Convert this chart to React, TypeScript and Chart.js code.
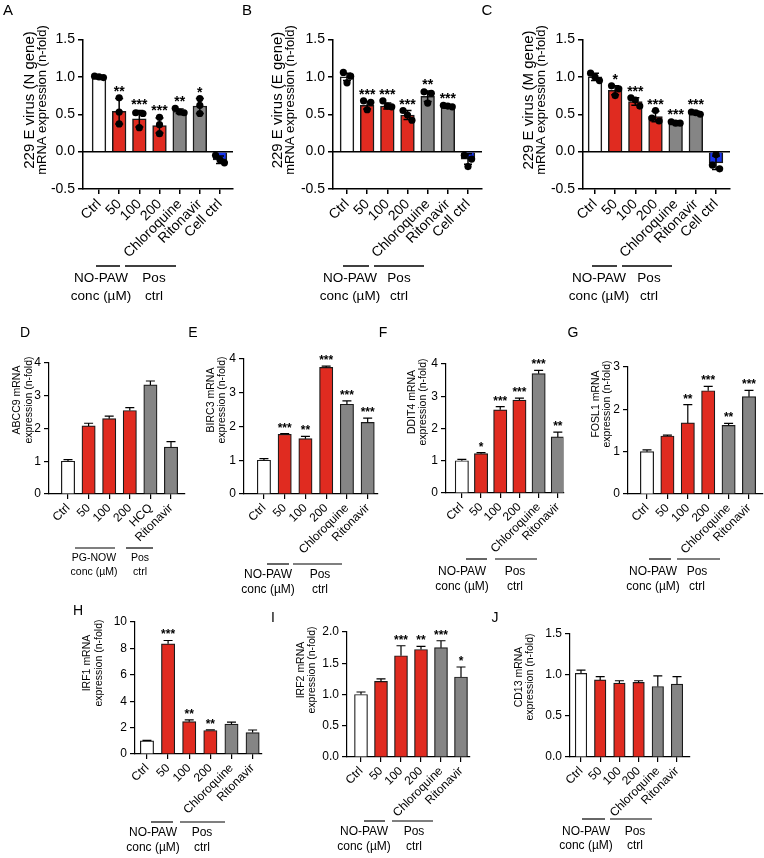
import React, { useEffect, useRef } from "react";
import { Chart, registerables } from "chart.js";
Chart.register(...registerables);

const FONT = "'Liberation Sans', Arial, Helvetica, sans-serif";
const RED = "#e02b20";
const GREY = "#858585";
const WHITE = "#ffffff";
const BLUE = "#1733ee";

// ---------- categories ----------
const virusCategories = ["Ctrl", "50", "100", "200", "Chloroquine", "Ritonavir", "Cell ctrl"];
const geneCategories = ["Ctrl", "50", "100", "200", "Chloroquine", "Ritonavir"];
const abcc9Categories = ["Ctrl", "50", "100", "200", "HCQ", "Ritonavir"];

// ---------- A: 229E N gene ----------
const nGeneMean = [1.0, 0.54, 0.44, 0.35, 0.54, 0.61, -0.11];
const nGeneSD = [0.02, 0.17, 0.11, 0.1, 0.03, 0.1, 0.05];
const nGeneDots = [[0.99, 1.01, 1.0], [0.72, 0.53, 0.37], [0.51, 0.52, 0.32], [0.46, 0.36, 0.24], [0.58, 0.52, 0.53], [0.71, 0.62, 0.51], [-0.05, -0.15, -0.11]];
const nGeneStars = ["", "**", "***", "***", "**", "*", ""];

// ---------- B: 229E E gene ----------
const eGeneMean = [1.0, 0.62, 0.61, 0.49, 0.74, 0.6, -0.1];
const eGeneSD = [0.05, 0.05, 0.04, 0.06, 0.07, 0.02, 0.07];
const eGeneDots = [[1.06, 0.92, 1.01], [0.68, 0.56, 0.66], [0.68, 0.61, 0.6], [0.55, 0.49, 0.42], [0.8, 0.78, 0.65], [0.6, 0.62, 0.61], [-0.05, -0.2, -0.1]];
const eGeneStars = ["", "***", "***", "***", "**", "***", ""];

// ---------- C: 229E M gene ----------
const mGeneMean = [1.0, 0.82, 0.67, 0.47, 0.39, 0.52, -0.15];
const mGeneSD = [0.05, 0.06, 0.05, 0.07, 0.02, 0.02, 0.09];
const mGeneDots = [[1.05, 0.95, 1.0], [0.88, 0.84, 0.75], [0.72, 0.69, 0.61], [0.55, 0.45, 0.41], [0.4, 0.38, 0.38], [0.5, 0.52, 0.53], [-0.04, -0.18, -0.23]];
const mGeneStars = ["", "*", "***", "***", "***", "***", ""];

// ---------- D: ABCC9 ----------
const abcc9Mean = [1.0, 2.08, 2.3, 2.55, 3.33, 1.43];
const abcc9SD = [0.05, 0.08, 0.08, 0.09, 0.12, 0.17];
const abcc9Stars = ["", "", "", "", "", ""];

// ---------- E: BIRC3 ----------
const birc3Mean = [1.0, 1.77, 1.64, 3.75, 2.66, 2.12];
const birc3SD = [0.05, 0.02, 0.07, 0.04, 0.1, 0.13];
const birc3Stars = ["", "***", "**", "***", "***", "***"];

// ---------- F: DDIT4 ----------
const ddit4Mean = [1.0, 1.22, 2.58, 2.88, 3.7, 1.74];
const ddit4SD = [0.04, 0.03, 0.1, 0.06, 0.1, 0.15];
const ddit4Stars = ["", "*", "***", "***", "***", "**"];

// ---------- G: FOSL1 ----------
const fosl1Mean = [1.0, 1.37, 1.68, 2.44, 1.62, 2.3];
const fosl1SD = [0.04, 0.02, 0.43, 0.1, 0.05, 0.15];
const fosl1Stars = ["", "", "**", "***", "**", "***"];

// ---------- H: IRF1 ----------
const irf1Mean = [1.0, 8.35, 2.45, 1.78, 2.27, 1.62];
const irf1SD = [0.03, 0.25, 0.13, 0.05, 0.15, 0.2];
const irf1Stars = ["", "***", "**", "**", "", ""];

// ---------- I: IRF2 ----------
const irf2Mean = [1.0, 1.21, 1.62, 1.72, 1.75, 1.28];
const irf2SD = [0.04, 0.04, 0.16, 0.05, 0.11, 0.16];
const irf2Stars = ["", "", "***", "**", "***", "*"];

// ---------- J: CD13 ----------
const cd13Mean = [1.02, 0.94, 0.9, 0.91, 0.86, 0.89];
const cd13SD = [0.04, 0.04, 0.03, 0.02, 0.13, 0.09];
const cd13Stars = ["", "", "", "", "", ""];

const virusColors = [WHITE, RED, RED, RED, GREY, GREY, BLUE];
const geneColors = [WHITE, RED, RED, RED, GREY, GREY];

type Group = { lines: string[]; x1: number; x2: number; tx: number };
type PanelSpec = {
  letter: string;
  letterPos: [number, number];
  letterFont: number;
  box: [number, number, number, number];
  area: [number, number, number, number];
  tickPx: [number, number];
  cats: string[];
  means: number[];
  sds: number[];
  dots?: number[][];
  stars: string[];
  colors: string[];
  yMin: number;
  yMax: number;
  yStep: number;
  dec: number;
  title: string[];
  titleX: number[];
  titleY: number;
  titleFonts: number[];
  tickFont: number;
  labelFont: number;
  groupFont: number;
  starFont: number;
  barW: number;
  cap: number;
  lw: number;
  twoSided: boolean;
  zeroLine: boolean;
  groupLineY: number;
  groupTextY: number[];
  groups: Group[];
};

const pairOffsets = [-0.18, 0.18];
const tripleOffsets = [-0.22, 0, 0.22];

function buildDots(dots: number[][], range: number) {
  const tol = range * 0.04;
  const out: { x: number; y: number }[] = [];
  dots.forEach((vals, i) => {
    const sorted = [...vals].sort((a, b) => b - a);
    const clusters: number[][] = [];
    sorted.forEach((v) => {
      const last = clusters[clusters.length - 1];
      if (last && Math.abs(last[last.length - 1] - v) < tol) last.push(v);
      else clusters.push([v]);
    });
    clusters.forEach((c) => {
      const offs = c.length === 1 ? [0] : c.length === 2 ? pairOffsets : c.length === 3 ? tripleOffsets : c.map((_, k) => (k - (c.length - 1) / 2) * 0.22);
      c.forEach((v, k) => out.push({ x: i + offs[k], y: v }));
    });
  });
  return out;
}

function annotPlugin(p: PanelSpec) {
  const [ox, oy] = p.box;
  return {
    id: "annot" + p.letter,
    afterDatasetDraw(chart: any, args: any) {
      if (args.index !== 0) return;
      const ctx = chart.ctx as CanvasRenderingContext2D;
      const xs = chart.scales.x;
      const ys = chart.scales.y;
      ctx.save();
      ctx.strokeStyle = "#000";
      ctx.lineWidth = p.lw;
      if (p.zeroLine) {
        const y0 = ys.getPixelForValue(0);
        ctx.beginPath();
        ctx.moveTo(chart.chartArea.left, y0);
        ctx.lineTo(chart.chartArea.right, y0);
        ctx.stroke();
      }
      p.means.forEach((m, i) => {
        const sd = p.sds[i];
        const x = xs.getPixelForValue(i);
        const yt = ys.getPixelForValue(m + sd);
        const yb = ys.getPixelForValue(p.twoSided ? m - sd : m);
        ctx.beginPath();
        ctx.moveTo(x, yt);
        ctx.lineTo(x, yb);
        ctx.moveTo(x - p.cap / 2, yt);
        ctx.lineTo(x + p.cap / 2, yt);
        if (p.twoSided) {
          ctx.moveTo(x - p.cap / 2, yb);
          ctx.lineTo(x + p.cap / 2, yb);
        }
        ctx.stroke();
      });
      ctx.restore();
    },
    afterDraw(chart: any) {
      const ctx = chart.ctx as CanvasRenderingContext2D;
      const xs = chart.scales.x;
      const ys = chart.scales.y;
      ctx.save();
      ctx.fillStyle = "#000";
      ctx.strokeStyle = "#000";
      // stars
      ctx.font = `bold ${p.starFont}px ${FONT}`;
      ctx.textAlign = "center";
      ctx.textBaseline = "alphabetic";
      p.stars.forEach((s, i) => {
        if (!s) return;
        let top = p.means[i] + p.sds[i];
        if (p.dots) top = Math.max(top, ...p.dots[i]);
        const y = ys.getPixelForValue(top) - 2;
        ctx.fillText(s, xs.getPixelForValue(i), y);
      });
      // panel letter
      ctx.font = `${p.letterFont}px ${FONT}`;
      ctx.textBaseline = "middle";
      ctx.fillText(p.letter, p.letterPos[0] - ox, p.letterPos[1] - oy);
      // y title
      p.title.forEach((t, k) => {
        ctx.save();
        ctx.font = `${p.titleFonts[k]}px ${FONT}`;
        ctx.translate(p.titleX[k] - ox, p.titleY - oy);
        ctx.rotate(-Math.PI / 2);
        ctx.fillText(t, 0, 0);
        ctx.restore();
      });
      // groups
      ctx.lineWidth = p.lw;
      ctx.font = `${p.groupFont}px ${FONT}`;
      p.groups.forEach((g) => {
        ctx.beginPath();
        ctx.moveTo(g.x1 - ox, p.groupLineY - oy);
        ctx.lineTo(g.x2 - ox, p.groupLineY - oy);
        ctx.stroke();
        g.lines.forEach((t, k) => ctx.fillText(t, g.tx - ox, p.groupTextY[k] - oy));
      });
      ctx.restore();
    },
  };
}

function PanelChart({ p }: { p: PanelSpec }) {
  const ref = useRef<HTMLCanvasElement>(null);
  const [ox, oy, w, h] = p.box;
  useEffect(() => {
    const [L, T, R, B] = p.area;
    const n = p.cats.length;
    const spacing = (p.tickPx[1] - p.tickPx[0]) / (n - 1);
    const xMin = -(p.tickPx[0] - L) / spacing;
    const xMax = n - 1 + (R - p.tickPx[1]) / spacing;
    const datasets: any[] = [
      {
        type: "bar",
        data: p.means.map((m, i) => ({ x: i, y: m })),
        backgroundColor: p.colors,
        borderColor: "#1a1a1a",
        borderWidth: p.lw,
        borderSkipped: "start",
        barThickness: p.barW,
        order: 2,
      },
    ];
    if (p.dots) {
      datasets.push({
        type: "scatter",
        data: buildDots(p.dots, p.yMax - p.yMin),
        pointRadius: 3.6,
        pointBackgroundColor: "#000",
        pointBorderWidth: 0,
        order: 1,
      });
    }
    const chart = new Chart(ref.current as HTMLCanvasElement, {
      type: "bar",
      data: { datasets },
      options: {
        responsive: false,
        animation: false,
        events: [],
        layout: { padding: { left: 0, top: T - oy, right: ox + w - R, bottom: 0 } },
        plugins: { legend: { display: false }, tooltip: { enabled: false } },
        scales: {
          x: {
            type: "linear",
            min: xMin,
            max: xMax,
            offset: false,
            afterBuildTicks: (s: any) => {
              s.ticks = p.cats.map((_, i) => ({ value: i }));
            },
            afterFit: (s: any) => {
              s.height = oy + h - B;
            },
            grid: { display: true, drawOnChartArea: false, drawTicks: true, tickLength: 5, color: "#000", lineWidth: p.lw, offset: false },
            border: { display: true, color: "#000", width: p.lw },
            ticks: {
              autoSkip: false,
              maxRotation: 45,
              minRotation: 45,
              padding: 2,
              color: "#000",
              font: { family: FONT, size: p.labelFont },
              callback: (v: any) => p.cats[Math.round(Number(v))] ?? "",
            },
          },
          y: {
            type: "linear",
            min: p.yMin,
            max: p.yMax,
            afterFit: (s: any) => {
              s.width = L - ox;
            },
            grid: { display: true, drawOnChartArea: false, drawTicks: true, tickLength: 5, color: "#000", lineWidth: p.lw },
            border: { display: true, color: "#000", width: p.lw },
            ticks: {
              stepSize: p.yStep,
              padding: 3,
              color: "#000",
              font: { family: FONT, size: p.tickFont },
              callback: (v: any) => Number(v).toFixed(p.dec),
            },
          },
        },
      } as any,
      plugins: [annotPlugin(p) as any],
    });
    return () => chart.destroy();
  }, [p]);
  return <canvas ref={ref} width={w} height={h} style={{ position: "absolute", left: ox, top: oy, width: w, height: h }} />;
}

const noPaw = (x1: number, x2: number, tx: number): Group => ({ lines: ["NO-PAW", "conc (µM)"], x1, x2, tx });
const pos = (x1: number, x2: number, tx: number): Group => ({ lines: ["Pos", "ctrl"], x1, x2, tx });

const row1 = {
  yMin: -0.5, yMax: 1.5, yStep: 0.5, dec: 1, titleY: 100, titleFonts: [15, 13], tickFont: 14, labelFont: 14, groupFont: 13.5,
  starFont: 14, barW: 13.7, cap: 8, lw: 1.5, twoSided: true, zeroLine: true, groupLineY: 266, groupTextY: [278, 296], letterFont: 15,
  cats: virusCategories, colors: virusColors,
};
const row2 = {
  yMin: 0, yMax: 4, yStep: 1, dec: 0, titleFonts: [10.5, 10.5], tickFont: 12, labelFont: 12, groupFont: 12,
  starFont: 12, barW: 13.3, cap: 9, lw: 1.2, twoSided: false, zeroLine: false, letterFont: 14,
  cats: geneCategories, colors: geneColors,
};

const panels: PanelSpec[] = [
  { ...row1, letter: "A", letterPos: [8, 11], box: [0, 0, 245, 310], area: [83, 39.5, 233, 189], tickPx: [99, 220],
    means: nGeneMean, sds: nGeneSD, dots: nGeneDots, stars: nGeneStars,
    title: ["229 E virus (N gene)", "mRNA expression (n-fold)"], titleX: [30, 42],
    groups: [noPaw(96, 120, 101), pos(125, 176, 154)] },
  { ...row1, letter: "B", letterPos: [247, 11], box: [240, 0, 250, 310], area: [333, 39.5, 482, 189], tickPx: [347, 468],
    means: eGeneMean, sds: eGeneSD, dots: eGeneDots, stars: eGeneStars,
    title: ["229 E virus (E gene)", "mRNA expression (n-fold)"], titleX: [278, 290],
    groups: [noPaw(343, 369, 350), pos(374, 424, 399)] },
  { ...row1, letter: "C", letterPos: [487, 11], box: [480, 0, 284, 310], area: [583, 39.5, 730, 189], tickPx: [595, 716],
    means: mGeneMean, sds: mGeneSD, dots: mGeneDots, stars: mGeneStars,
    title: ["229 E virus (M gene)", "mRNA expression (n-fold)"], titleX: [529, 541],
    groups: [noPaw(592, 617, 599), pos(622, 672, 649)] },
  { ...row2, letter: "D", letterPos: [25, 333], box: [0, 310, 188, 295], area: [49, 363, 185, 494], tickPx: [68, 171],
    cats: abcc9Categories, means: abcc9Mean, sds: abcc9SD, stars: abcc9Stars,
    title: ["ABCC9 mRNA", "expression (n-fold)"], titleX: [17, 29], titleY: 400, groupFont: 10.5,
    groupLineY: 548, groupTextY: [558, 572],
    groups: [{ lines: ["PG-NOW", "conc (µM)"], x1: 75, x2: 115, tx: 94 }, { lines: ["Pos", "ctrl"], x1: 126, x2: 153, tx: 140 }] },
  { ...row2, letter: "E", letterPos: [193, 333], box: [186, 310, 194, 295], area: [244, 359, 378, 494], tickPx: [264, 368],
    means: birc3Mean, sds: birc3SD, stars: birc3Stars,
    title: ["BIRC3 mRNA", "expression (n-fold)"], titleX: [211, 222], titleY: 400,
    groupLineY: 564, groupTextY: [575, 590], groups: [noPaw(267, 289, 268), pos(293, 342, 320)] },
  { ...row2, letter: "F", letterPos: [383, 333], box: [378, 310, 192, 295], area: [446, 364, 572, 493], tickPx: [463, 566],
    means: ddit4Mean, sds: ddit4SD, stars: ddit4Stars,
    title: ["DDIT4 mRNA", "expression (n-fold)"], titleX: [412, 423], titleY: 402,
    groupLineY: 559, groupTextY: [572, 587], groups: [noPaw(466, 487, 462), pos(495, 537, 515)] },
  { ...row2, letter: "G", letterPos: [573, 333], box: [566, 310, 198, 295], area: [628, 367, 763, 494], tickPx: [647, 749],
    yMax: 3, means: fosl1Mean, sds: fosl1SD, stars: fosl1Stars,
    title: ["FOSL1 mRNA", "expression (n-fold)"], titleX: [596, 607], titleY: 404,
    groupLineY: 559, groupTextY: [572, 587], groups: [noPaw(649, 671, 653), pos(677, 720, 697)] },
  { ...row2, letter: "H", letterPos: [78, 611], box: [0, 600, 265, 258], area: [135, 622, 262, 754], tickPx: [147, 253],
    yMax: 10, yStep: 2, means: irf1Mean, sds: irf1SD, stars: irf1Stars,
    title: ["IRF1 mRNA", "expression (n-fold)"], titleX: [87, 99], titleY: 663,
    groupLineY: 822, groupTextY: [833, 848], groups: [noPaw(151, 173, 153), pos(180, 225, 202)] },
  { ...row2, letter: "I", letterPos: [273, 618], box: [265, 600, 225, 258], area: [347, 632, 470, 757], tickPx: [361, 461],
    yMax: 2, yStep: 0.5, dec: 1, barW: 13, means: irf2Mean, sds: irf2SD, stars: irf2Stars,
    title: ["IRF2 mRNA", "expression (n-fold)"], titleX: [301, 312], titleY: 670,
    groupLineY: 821, groupTextY: [832, 847], groups: [noPaw(364, 385, 364), pos(392, 433, 414)] },
  { ...row2, letter: "J", letterPos: [495, 618], box: [488, 600, 276, 258], area: [570, 634, 690, 757], tickPx: [581, 677],
    yMax: 1.5, yStep: 0.5, dec: 1, barW: 11.5, means: cd13Mean, sds: cd13SD, stars: cd13Stars,
    title: ["CD13 mRNA", "expression (n-fold)"], titleX: [519, 530], titleY: 677,
    groupLineY: 819, groupTextY: [832, 846], groups: [noPaw(582, 605, 586), pos(610, 652, 635)] },
] as PanelSpec[];

export default function App() {
  return (
    <div style={{ position: "absolute", left: 0, top: 0, width: 764, height: 858, background: "#fff", overflow: "hidden" }}>
      {panels.map((p) => (
        <PanelChart key={p.letter} p={p} />
      ))}
    </div>
  );
}
